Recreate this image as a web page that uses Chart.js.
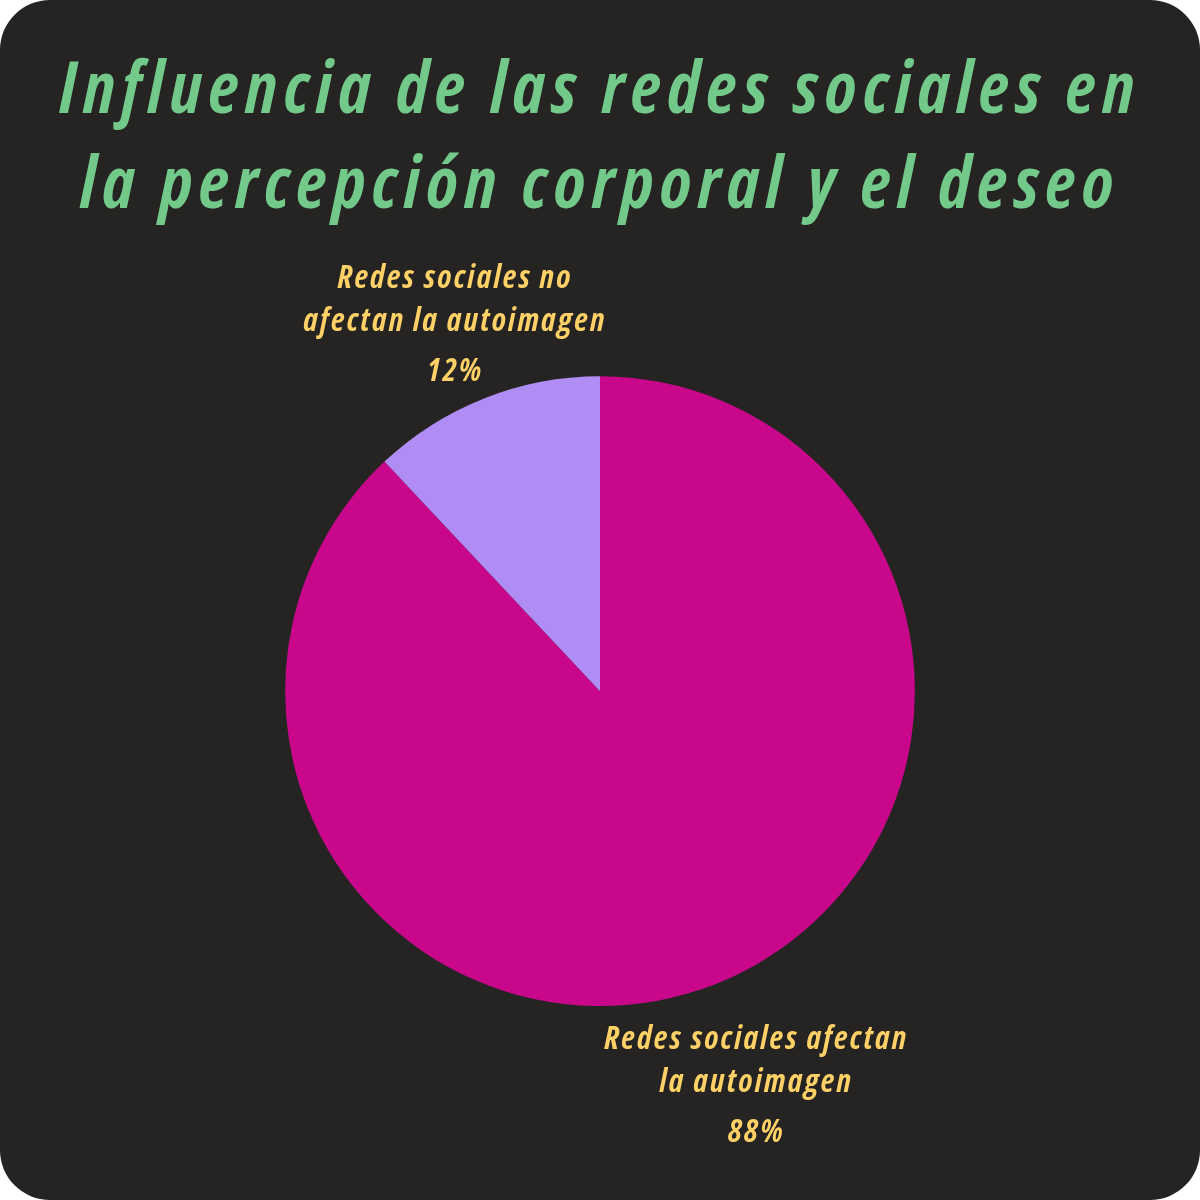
<!DOCTYPE html>
<html>
<head>
<meta charset="utf-8">
<script src="https://cdn.jsdelivr.net/npm/chart.js@4"></script>
<style>
  html, body { margin:0; padding:0; background:#ffffff; }
  #wrap { width:1200px; height:1200px; }
</style>
</head>
<body>
<div id="wrap"><canvas id="pieChart" width="1200" height="1200"></canvas></div>
<script>
// ── DATA ──────────────────────────────────────────────────
const titleLines = ['Influencia de las redes sociales en', 'la percepción corporal y el deseo'];
const categories = [
  ['Redes sociales afectan', 'la autoimagen'],
  ['Redes sociales no', 'afectan la autoimagen']
];
const shares = [88, 12];
const sliceColors = ['#C8078A', '#AF8DF5'];

const BG = '#252423';
const TITLE_GREEN = '#72C98A';
const LABEL_YELLOW = '#FFD166';
const FONT = '"Open Sans", sans-serif';

// ── rounded dark card behind everything ──────────────────
const cardBg = {
  id: 'cardBg',
  beforeDraw(chart) {
    const c = chart.ctx;
    c.save();
    c.fillStyle = BG;
    c.beginPath();
    c.roundRect(0, 0, chart.width, chart.height, 50);
    c.fill();
    c.restore();
    c.letterSpacing = '6.6px';
  },
  afterDraw(chart) { chart.ctx.letterSpacing = '0px'; }
};

// ── outside labels: name + percentage on the slice's mid angle ──
const outsideLabels = {
  id: 'outsideLabels',
  afterDatasetsDraw(chart) {
    const c = chart.ctx;
    const meta = chart.getDatasetMeta(0);
    c.save();
    c.letterSpacing = '2.2px';
    c.fillStyle = LABEL_YELLOW;
    c.textAlign = 'center';
    c.textBaseline = 'middle';
    meta.data.forEach((arc, i) => {
      const p = arc.getProps(['x', 'y', 'startAngle', 'endAngle', 'outerRadius'], true);
      const mid = (p.startAngle + p.endAngle) / 2;
      const up = Math.sin(mid) < 0;
      const dist = p.outerRadius + (up ? 79 : 110);
      const cx = p.x + Math.cos(mid) * dist;
      const cy = p.y + Math.sin(mid) * dist;
      const lines = categories[i];
      c.font = 'italic bold condensed 32px ' + FONT;
      c.fillText(lines[0], cx, cy - 46);
      c.fillText(lines[1], cx, cy - 3);
      c.fillText(shares[i] + '%', cx, cy + 47);
    });
    c.restore();
  }
};

new Chart(document.getElementById('pieChart'), {
  type: 'pie',
  data: {
    labels: categories.map(l => l.join(' ')),
    datasets: [{
      data: shares,
      backgroundColor: sliceColors,
      borderWidth: 0
    }]
  },
  options: {
    responsive: false,
    animation: false,
    rotation: 0,
    layout: { padding: { bottom: 194 } },
    plugins: {
      legend: { display: false },
      tooltip: { enabled: false },
      title: {
        display: true,
        text: titleLines,
        color: TITLE_GREEN,
        font: { family: FONT, size: 71, style: 'italic', weight: 'bold condensed', lineHeight: 1.34 },
        padding: { top: 45, bottom: 141 }
      }
    }
  },
  plugins: [cardBg, outsideLabels]
});
</script>
</body>
</html>
